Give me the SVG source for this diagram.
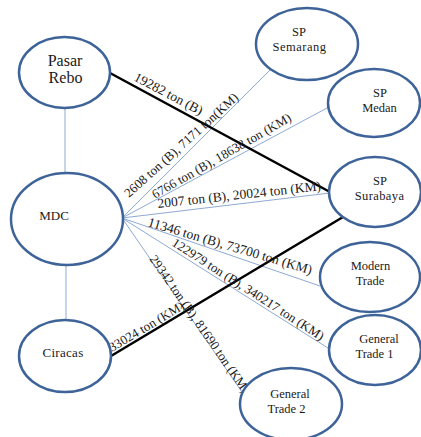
<svg xmlns="http://www.w3.org/2000/svg" width="421" height="437" viewBox="0 0 421 437">
<defs>
<style>
.node ellipse{fill:#ffffff;stroke:#3d6399;stroke-width:2.5}
.node text{font-size:12.5px;fill:#1a1a1a;text-anchor:middle}
.thin{stroke:#8eaad3;stroke-width:1;fill:none}
.thick{stroke:#000000;stroke-width:2.5;fill:none}
.lbl{font-size:13px;fill:#1a1a1a}
</style>
</defs>
<rect width="421" height="437" fill="#ffffff"/>
<g id="connectors" font-family="Liberation Serif, Times New Roman, serif">
<line class="thin" x1="65" y1="108" x2="65" y2="173"/>
<line class="thin" x1="66" y1="265" x2="66" y2="320"/>
<line class="thin" x1="122" y1="218" x2="270" y2="70"/>
<line class="thin" x1="122" y1="218" x2="327" y2="108"/>
<line class="thin" x1="122" y1="218" x2="330" y2="193"/>
<line class="thin" x1="122" y1="218" x2="320" y2="286"/>
<line class="thin" x1="122" y1="218" x2="328" y2="348"/>
<line class="thin" x1="122" y1="218" x2="242" y2="392"/>
<line class="thick" x1="110" y1="73" x2="330" y2="192"/>
<line class="thick" x1="111" y1="356" x2="343" y2="217"/>
<text class="lbl" transform="translate(133,80) rotate(27.8)" style="font-size:13.5px">19282 ton (B)</text>
<text class="lbl" transform="translate(129,198) rotate(-42)">2608 ton (B), 7171 ton(KM)</text>
<text class="lbl" transform="translate(155,199) rotate(-29.8)">6766 ton (B), 18638 ton (KM)</text>
<text class="lbl" transform="translate(158,208) rotate(-6.2)" style="font-size:13.5px">2007 ton (B), 20024 ton (KM)</text>
<text class="lbl" transform="translate(147,226) rotate(16.5)" style="font-size:13.5px">11346 ton (B), 73700 ton (KM)</text>
<text class="lbl" transform="translate(171,245) rotate(32.6)">122979 ton (B), 340217 ton (KM)</text>
<text class="lbl" transform="translate(149,259) rotate(55)">29342 ton (B), 81690 ton (KM)</text>
<text class="lbl" transform="translate(112,352) rotate(-30.7)">33024 ton (KM)</text>
</g>
<g font-family="Liberation Serif, Times New Roman, serif">
<g id="pasar-rebo" class="node">
<ellipse cx="64.5" cy="72.5" rx="45.5" ry="35.5"/>
<text x="65" y="66" style="font-size:16px">Pasar</text>
<text x="65.5" y="83" style="font-size:16px">Rebo</text>
</g>
<g id="mdc" class="node">
<ellipse cx="67" cy="219" rx="56" ry="46"/>
<text x="54" y="220" style="font-size:13px">MDC</text>
</g>
<g id="ciracas" class="node">
<ellipse cx="65" cy="356" rx="46" ry="36"/>
<text x="63" y="357" style="font-size:13px;letter-spacing:0.3px">Ciracas</text>
</g>
<g id="sp-semarang" class="node">
<ellipse cx="307" cy="44" rx="51" ry="36"/>
<text x="299" y="36">SP</text>
<text x="299.5" y="50.5" style="letter-spacing:0.5px">Semarang</text>
</g>
<g id="sp-medan" class="node">
<ellipse cx="374" cy="103" rx="46" ry="34"/>
<text x="380" y="96.5">SP</text>
<text x="379.5" y="112">Medan</text>
</g>
<g id="sp-surabaya" class="node">
<ellipse cx="375" cy="192" rx="46" ry="35"/>
<text x="380" y="184.5">SP</text>
<text x="379.5" y="200" style="letter-spacing:0.4px">Surabaya</text>
</g>
<g id="modern-trade" class="node">
<ellipse cx="370" cy="277" rx="50" ry="35"/>
<text x="370.5" y="269.5">Modern</text>
<text x="370" y="285">Trade</text>
</g>
<g id="general-trade-1" class="node">
<ellipse cx="375" cy="350" rx="46" ry="35"/>
<text x="379" y="342.5">General</text>
<text x="374.5" y="357.5">Trade 1</text>
</g>
<g id="general-trade-2" class="node">
<ellipse cx="291" cy="404" rx="51" ry="36"/>
<text x="290" y="397.5">General</text>
<text x="286.5" y="413">Trade 2</text>
</g>
</g>
</svg>
